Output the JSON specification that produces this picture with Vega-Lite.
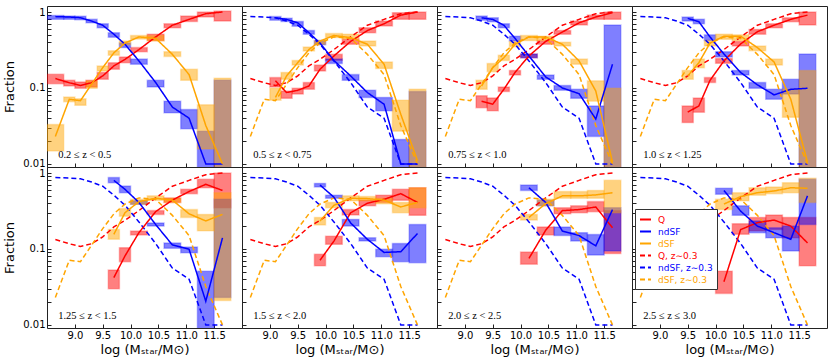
{
"$schema": "https://vega.github.io/schema/vega-lite/v6.json",
"padding": {"left": 3, "top": 5, "right": 5, "bottom": 2},
"background": "white",
"datasets": {
"bins": [
{"p":1,"k":"Q","lo":8.5,"hi":8.8,"x":8.65,"v":0.133,"l":0.114,"u":0.151},
{"p":1,"k":"Q","lo":8.8,"hi":9.0,"x":8.9,"v":0.117,"l":0.106,"u":0.126},
{"p":1,"k":"Q","lo":9.0,"hi":9.2,"x":9.1,"v":0.108,"l":0.099,"u":0.12},
{"p":1,"k":"Q","lo":9.2,"hi":9.4,"x":9.3,"v":0.117,"l":0.103,"u":0.126},
{"p":1,"k":"Q","lo":9.4,"hi":9.6,"x":9.5,"v":0.144,"l":0.13,"u":0.16},
{"p":1,"k":"Q","lo":9.6,"hi":9.8,"x":9.7,"v":0.195,"l":0.176,"u":0.215},
{"p":1,"k":"Q","lo":9.8,"hi":10.0,"x":9.9,"v":0.238,"l":0.215,"u":0.256},
{"p":1,"k":"Q","lo":10.0,"hi":10.3,"x":10.15,"v":0.32,"l":0.30,"u":0.34},
{"p":1,"k":"Q","lo":10.3,"hi":10.6,"x":10.45,"v":0.47,"l":0.42,"u":0.51},
{"p":1,"k":"Q","lo":10.6,"hi":10.9,"x":10.75,"v":0.67,"l":0.62,"u":0.70},
{"p":1,"k":"Q","lo":10.9,"hi":11.2,"x":11.05,"v":0.80,"l":0.75,"u":0.886},
{"p":1,"k":"Q","lo":11.2,"hi":11.5,"x":11.35,"v":0.95,"l":0.86,"u":1.0},
{"p":1,"k":"Q","lo":11.5,"hi":11.8,"x":11.65,"v":1.0,"l":0.76,"u":1.03},
{"p":1,"k":"ndSF","lo":8.5,"hi":8.8,"x":8.65,"v":0.87,"l":0.80,"u":0.90},
{"p":1,"k":"ndSF","lo":8.8,"hi":9.0,"x":8.9,"v":0.86,"l":0.80,"u":0.886},
{"p":1,"k":"ndSF","lo":9.0,"hi":9.2,"x":9.1,"v":0.84,"l":0.79,"u":0.88},
{"p":1,"k":"ndSF","lo":9.2,"hi":9.4,"x":9.3,"v":0.76,"l":0.72,"u":0.80},
{"p":1,"k":"ndSF","lo":9.4,"hi":9.6,"x":9.5,"v":0.67,"l":0.62,"u":0.70},
{"p":1,"k":"ndSF","lo":9.6,"hi":9.8,"x":9.7,"v":0.51,"l":0.465,"u":0.535},
{"p":1,"k":"ndSF","lo":9.8,"hi":10.0,"x":9.9,"v":0.376,"l":0.34,"u":0.39},
{"p":1,"k":"ndSF","lo":10.0,"hi":10.3,"x":10.15,"v":0.227,"l":0.205,"u":0.24},
{"p":1,"k":"ndSF","lo":10.3,"hi":10.6,"x":10.45,"v":0.118,"l":0.103,"u":0.126},
{"p":1,"k":"ndSF","lo":10.6,"hi":10.9,"x":10.75,"v":0.056,"l":0.047,"u":0.067},
{"p":1,"k":"ndSF","lo":10.9,"hi":11.2,"x":11.05,"v":0.040,"l":0.029,"u":0.052},
{"p":1,"k":"ndSF","lo":11.2,"hi":11.5,"x":11.35,"v":0.01,"l":0.005,"u":0.027},
{"p":1,"k":"ndSF","lo":11.5,"hi":11.8,"x":11.65,"v":0.01,"l":0.005,"u":0.126},
{"p":1,"k":"dSF","lo":8.5,"hi":8.8,"x":8.65,"v":0.023,"l":0.0148,"u":0.033},
{"p":1,"k":"dSF","lo":8.8,"hi":9.0,"x":8.9,"v":0.071,"l":0.066,"u":0.076},
{"p":1,"k":"dSF","lo":9.0,"hi":9.2,"x":9.1,"v":0.068,"l":0.059,"u":0.072},
{"p":1,"k":"dSF","lo":9.2,"hi":9.4,"x":9.3,"v":0.112,"l":0.099,"u":0.124},
{"p":1,"k":"dSF","lo":9.4,"hi":9.6,"x":9.5,"v":0.185,"l":0.167,"u":0.195},
{"p":1,"k":"dSF","lo":9.6,"hi":9.8,"x":9.7,"v":0.29,"l":0.27,"u":0.31},
{"p":1,"k":"dSF","lo":9.8,"hi":10.0,"x":9.9,"v":0.39,"l":0.37,"u":0.415},
{"p":1,"k":"dSF","lo":10.0,"hi":10.3,"x":10.15,"v":0.47,"l":0.44,"u":0.49},
{"p":1,"k":"dSF","lo":10.3,"hi":10.6,"x":10.45,"v":0.45,"l":0.415,"u":0.49},
{"p":1,"k":"dSF","lo":10.6,"hi":10.9,"x":10.75,"v":0.277,"l":0.26,"u":0.30},
{"p":1,"k":"dSF","lo":10.9,"hi":11.2,"x":11.05,"v":0.15,"l":0.126,"u":0.176},
{"p":1,"k":"dSF","lo":11.2,"hi":11.5,"x":11.35,"v":0.032,"l":0.0157,"u":0.06},
{"p":1,"k":"dSF","lo":11.5,"hi":11.8,"x":11.65,"v":0.01,"l":0.005,"u":0.134},

{"p":2,"k":"Q","lo":9.0,"hi":9.2,"x":9.1,"v":0.124,"l":0.103,"u":0.137},
{"p":2,"k":"Q","lo":9.2,"hi":9.4,"x":9.3,"v":0.087,"l":0.073,"u":0.091},
{"p":2,"k":"Q","lo":9.4,"hi":9.6,"x":9.5,"v":0.093,"l":0.083,"u":0.099},
{"p":2,"k":"Q","lo":9.6,"hi":9.8,"x":9.7,"v":0.106,"l":0.096,"u":0.118},
{"p":2,"k":"Q","lo":9.8,"hi":10.0,"x":9.9,"v":0.176,"l":0.167,"u":0.20},
{"p":2,"k":"Q","lo":10.0,"hi":10.3,"x":10.15,"v":0.264,"l":0.231,"u":0.277},
{"p":2,"k":"Q","lo":10.3,"hi":10.6,"x":10.45,"v":0.41,"l":0.376,"u":0.437},
{"p":2,"k":"Q","lo":10.6,"hi":10.9,"x":10.75,"v":0.57,"l":0.535,"u":0.62},
{"p":2,"k":"Q","lo":10.9,"hi":11.2,"x":11.05,"v":0.70,"l":0.655,"u":0.76},
{"p":2,"k":"Q","lo":11.2,"hi":11.5,"x":11.35,"v":0.91,"l":0.80,"u":0.98},
{"p":2,"k":"Q","lo":11.5,"hi":11.8,"x":11.65,"v":1.0,"l":0.80,"u":1.0},
{"p":2,"k":"ndSF","lo":9.0,"hi":9.2,"x":9.1,"v":0.84,"l":0.78,"u":0.87},
{"p":2,"k":"ndSF","lo":9.2,"hi":9.4,"x":9.3,"v":0.80,"l":0.75,"u":0.83},
{"p":2,"k":"ndSF","lo":9.4,"hi":9.6,"x":9.5,"v":0.72,"l":0.65,"u":0.75},
{"p":2,"k":"ndSF","lo":9.6,"hi":9.8,"x":9.7,"v":0.535,"l":0.51,"u":0.57},
{"p":2,"k":"ndSF","lo":9.8,"hi":10.0,"x":9.9,"v":0.39,"l":0.37,"u":0.42},
{"p":2,"k":"ndSF","lo":10.0,"hi":10.3,"x":10.15,"v":0.23,"l":0.21,"u":0.24},
{"p":2,"k":"ndSF","lo":10.3,"hi":10.6,"x":10.45,"v":0.144,"l":0.126,"u":0.15},
{"p":2,"k":"ndSF","lo":10.6,"hi":10.9,"x":10.75,"v":0.087,"l":0.075,"u":0.093},
{"p":2,"k":"ndSF","lo":10.9,"hi":11.2,"x":11.05,"v":0.061,"l":0.05,"u":0.075},
{"p":2,"k":"ndSF","lo":11.2,"hi":11.5,"x":11.35,"v":0.01,"l":0.005,"u":0.021},
{"p":2,"k":"ndSF","lo":11.5,"hi":11.8,"x":11.65,"v":0.01,"l":0.005,"u":0.09},
{"p":2,"k":"dSF","lo":9.0,"hi":9.2,"x":9.1,"v":0.075,"l":0.069,"u":0.099},
{"p":2,"k":"dSF","lo":9.2,"hi":9.4,"x":9.3,"v":0.144,"l":0.13,"u":0.16},
{"p":2,"k":"dSF","lo":9.4,"hi":9.6,"x":9.5,"v":0.215,"l":0.20,"u":0.23},
{"p":2,"k":"dSF","lo":9.6,"hi":9.8,"x":9.7,"v":0.32,"l":0.307,"u":0.345},
{"p":2,"k":"dSF","lo":9.8,"hi":10.0,"x":9.9,"v":0.415,"l":0.376,"u":0.42},
{"p":2,"k":"dSF","lo":10.0,"hi":10.3,"x":10.15,"v":0.49,"l":0.46,"u":0.52},
{"p":2,"k":"dSF","lo":10.3,"hi":10.6,"x":10.45,"v":0.46,"l":0.44,"u":0.51},
{"p":2,"k":"dSF","lo":10.6,"hi":10.9,"x":10.75,"v":0.376,"l":0.357,"u":0.415},
{"p":2,"k":"dSF","lo":10.9,"hi":11.2,"x":11.05,"v":0.205,"l":0.18,"u":0.22},
{"p":2,"k":"dSF","lo":11.2,"hi":11.5,"x":11.35,"v":0.045,"l":0.027,"u":0.069},
{"p":2,"k":"dSF","lo":11.5,"hi":11.8,"x":11.65,"v":0.011,"l":0.005,"u":0.096},

{"p":3,"k":"Q","lo":9.2,"hi":9.4,"x":9.3,"v":0.067,"l":0.055,"u":0.079},
{"p":3,"k":"Q","lo":9.4,"hi":9.6,"x":9.5,"v":0.061,"l":0.05,"u":0.074},
{"p":3,"k":"Q","lo":9.6,"hi":9.8,"x":9.7,"v":0.096,"l":0.09,"u":0.103},
{"p":3,"k":"Q","lo":9.8,"hi":10.0,"x":9.9,"v":0.16,"l":0.148,"u":0.17},
{"p":3,"k":"Q","lo":10.0,"hi":10.3,"x":10.15,"v":0.264,"l":0.25,"u":0.28},
{"p":3,"k":"Q","lo":10.3,"hi":10.6,"x":10.45,"v":0.41,"l":0.376,"u":0.42},
{"p":3,"k":"Q","lo":10.6,"hi":10.9,"x":10.75,"v":0.545,"l":0.51,"u":0.57},
{"p":3,"k":"Q","lo":10.9,"hi":11.2,"x":11.05,"v":0.72,"l":0.675,"u":0.76},
{"p":3,"k":"Q","lo":11.2,"hi":11.5,"x":11.35,"v":0.86,"l":0.80,"u":0.91},
{"p":3,"k":"Q","lo":11.5,"hi":11.8,"x":11.65,"v":0.98,"l":0.80,"u":1.0},
{"p":3,"k":"ndSF","lo":9.2,"hi":9.4,"x":9.3,"v":0.84,"l":0.78,"u":0.886},
{"p":3,"k":"ndSF","lo":9.4,"hi":9.6,"x":9.5,"v":0.80,"l":0.746,"u":0.84},
{"p":3,"k":"ndSF","lo":9.6,"hi":9.8,"x":9.7,"v":0.67,"l":0.62,"u":0.70},
{"p":3,"k":"ndSF","lo":9.8,"hi":10.0,"x":9.9,"v":0.45,"l":0.415,"u":0.48},
{"p":3,"k":"ndSF","lo":10.0,"hi":10.3,"x":10.15,"v":0.264,"l":0.25,"u":0.28},
{"p":3,"k":"ndSF","lo":10.3,"hi":10.6,"x":10.45,"v":0.14,"l":0.13,"u":0.148},
{"p":3,"k":"ndSF","lo":10.6,"hi":10.9,"x":10.75,"v":0.10,"l":0.093,"u":0.108},
{"p":3,"k":"ndSF","lo":10.9,"hi":11.2,"x":11.05,"v":0.084,"l":0.073,"u":0.096},
{"p":3,"k":"ndSF","lo":11.2,"hi":11.5,"x":11.35,"v":0.039,"l":0.023,"u":0.058},
{"p":3,"k":"ndSF","lo":11.5,"hi":11.8,"x":11.65,"v":0.205,"l":0.005,"u":0.675},
{"p":3,"k":"dSF","lo":9.2,"hi":9.4,"x":9.3,"v":0.106,"l":0.096,"u":0.126},
{"p":3,"k":"dSF","lo":9.4,"hi":9.6,"x":9.5,"v":0.185,"l":0.164,"u":0.21},
{"p":3,"k":"dSF","lo":9.6,"hi":9.8,"x":9.7,"v":0.25,"l":0.23,"u":0.27},
{"p":3,"k":"dSF","lo":9.8,"hi":10.0,"x":9.9,"v":0.376,"l":0.35,"u":0.41},
{"p":3,"k":"dSF","lo":10.0,"hi":10.3,"x":10.15,"v":0.47,"l":0.42,"u":0.49},
{"p":3,"k":"dSF","lo":10.3,"hi":10.6,"x":10.45,"v":0.47,"l":0.42,"u":0.48},
{"p":3,"k":"dSF","lo":10.6,"hi":10.9,"x":10.75,"v":0.376,"l":0.357,"u":0.40},
{"p":3,"k":"dSF","lo":10.9,"hi":11.2,"x":11.05,"v":0.227,"l":0.205,"u":0.24},
{"p":3,"k":"dSF","lo":11.2,"hi":11.5,"x":11.35,"v":0.091,"l":0.067,"u":0.124},
{"p":3,"k":"dSF","lo":11.5,"hi":11.8,"x":11.65,"v":0.0105,"l":0.005,"u":0.099},

{"p":4,"k":"Q","lo":9.4,"hi":9.6,"x":9.5,"v":0.048,"l":0.035,"u":0.058},
{"p":4,"k":"Q","lo":9.6,"hi":9.8,"x":9.7,"v":0.058,"l":0.048,"u":0.074},
{"p":4,"k":"Q","lo":9.8,"hi":10.0,"x":9.9,"v":0.126,"l":0.118,"u":0.137},
{"p":4,"k":"Q","lo":10.0,"hi":10.3,"x":10.15,"v":0.227,"l":0.211,"u":0.244},
{"p":4,"k":"Q","lo":10.3,"hi":10.6,"x":10.45,"v":0.38,"l":0.357,"u":0.41},
{"p":4,"k":"Q","lo":10.6,"hi":10.9,"x":10.75,"v":0.55,"l":0.51,"u":0.59},
{"p":4,"k":"Q","lo":10.9,"hi":11.2,"x":11.05,"v":0.67,"l":0.62,"u":0.70},
{"p":4,"k":"Q","lo":11.2,"hi":11.5,"x":11.35,"v":0.80,"l":0.746,"u":0.84},
{"p":4,"k":"Q","lo":11.5,"hi":11.8,"x":11.65,"v":0.91,"l":0.675,"u":1.0},
{"p":4,"k":"ndSF","lo":9.4,"hi":9.6,"x":9.5,"v":0.825,"l":0.76,"u":0.86},
{"p":4,"k":"ndSF","lo":9.6,"hi":9.8,"x":9.7,"v":0.746,"l":0.70,"u":0.80},
{"p":4,"k":"ndSF","lo":9.8,"hi":10.0,"x":9.9,"v":0.47,"l":0.42,"u":0.50},
{"p":4,"k":"ndSF","lo":10.0,"hi":10.3,"x":10.15,"v":0.28,"l":0.256,"u":0.30},
{"p":4,"k":"ndSF","lo":10.3,"hi":10.6,"x":10.45,"v":0.16,"l":0.148,"u":0.17},
{"p":4,"k":"ndSF","lo":10.6,"hi":10.9,"x":10.75,"v":0.11,"l":0.099,"u":0.118},
{"p":4,"k":"ndSF","lo":10.9,"hi":11.2,"x":11.05,"v":0.081,"l":0.071,"u":0.096},
{"p":4,"k":"ndSF","lo":11.2,"hi":11.5,"x":11.35,"v":0.096,"l":0.083,"u":0.13},
{"p":4,"k":"ndSF","lo":11.5,"hi":11.8,"x":11.65,"v":0.099,"l":0.005,"u":0.28},
{"p":4,"k":"dSF","lo":9.4,"hi":9.6,"x":9.5,"v":0.144,"l":0.13,"u":0.17},
{"p":4,"k":"dSF","lo":9.6,"hi":9.8,"x":9.7,"v":0.215,"l":0.185,"u":0.24},
{"p":4,"k":"dSF","lo":9.8,"hi":10.0,"x":9.9,"v":0.39,"l":0.357,"u":0.42},
{"p":4,"k":"dSF","lo":10.0,"hi":10.3,"x":10.15,"v":0.48,"l":0.437,"u":0.51},
{"p":4,"k":"dSF","lo":10.3,"hi":10.6,"x":10.45,"v":0.48,"l":0.42,"u":0.50},
{"p":4,"k":"dSF","lo":10.6,"hi":10.9,"x":10.75,"v":0.34,"l":0.31,"u":0.357},
{"p":4,"k":"dSF","lo":10.9,"hi":11.2,"x":11.05,"v":0.22,"l":0.20,"u":0.24},
{"p":4,"k":"dSF","lo":11.2,"hi":11.5,"x":11.35,"v":0.071,"l":0.041,"u":0.096},
{"p":4,"k":"dSF","lo":11.5,"hi":11.8,"x":11.65,"v":0.0105,"l":0.005,"u":0.17},

{"p":5,"k":"Q","lo":9.6,"hi":9.8,"x":9.7,"v":0.042,"l":0.03,"u":0.053},
{"p":5,"k":"Q","lo":9.8,"hi":10.0,"x":9.9,"v":0.081,"l":0.068,"u":0.104},
{"p":5,"k":"Q","lo":10.0,"hi":10.3,"x":10.15,"v":0.164,"l":0.153,"u":0.172},
{"p":5,"k":"Q","lo":10.3,"hi":10.6,"x":10.45,"v":0.31,"l":0.285,"u":0.32},
{"p":5,"k":"Q","lo":10.6,"hi":10.9,"x":10.75,"v":0.44,"l":0.41,"u":0.47},
{"p":5,"k":"Q","lo":10.9,"hi":11.2,"x":11.05,"v":0.57,"l":0.535,"u":0.61},
{"p":5,"k":"Q","lo":11.2,"hi":11.5,"x":11.35,"v":0.71,"l":0.64,"u":0.825},
{"p":5,"k":"Q","lo":11.5,"hi":11.8,"x":11.65,"v":0.59,"l":0.35,"u":1.0},
{"p":5,"k":"ndSF","lo":9.6,"hi":9.8,"x":9.7,"v":0.80,"l":0.746,"u":0.87},
{"p":5,"k":"ndSF","lo":9.8,"hi":10.0,"x":9.9,"v":0.61,"l":0.55,"u":0.675},
{"p":5,"k":"ndSF","lo":10.0,"hi":10.3,"x":10.15,"v":0.41,"l":0.387,"u":0.43},
{"p":5,"k":"ndSF","lo":10.3,"hi":10.6,"x":10.45,"v":0.21,"l":0.20,"u":0.22},
{"p":5,"k":"ndSF","lo":10.6,"hi":10.9,"x":10.75,"v":0.113,"l":0.102,"u":0.12},
{"p":5,"k":"ndSF","lo":10.9,"hi":11.2,"x":11.05,"v":0.099,"l":0.089,"u":0.106},
{"p":5,"k":"ndSF","lo":11.2,"hi":11.5,"x":11.35,"v":0.0205,"l":0.005,"u":0.051},
{"p":5,"k":"ndSF","lo":11.5,"hi":11.8,"x":11.65,"v":0.14,"l":0.023,"u":0.45},
{"p":5,"k":"dSF","lo":9.6,"hi":9.8,"x":9.7,"v":0.156,"l":0.134,"u":0.18},
{"p":5,"k":"dSF","lo":9.8,"hi":10.0,"x":9.9,"v":0.30,"l":0.27,"u":0.34},
{"p":5,"k":"dSF","lo":10.0,"hi":10.3,"x":10.15,"v":0.42,"l":0.387,"u":0.45},
{"p":5,"k":"dSF","lo":10.3,"hi":10.6,"x":10.45,"v":0.465,"l":0.437,"u":0.50},
{"p":5,"k":"dSF","lo":10.6,"hi":10.9,"x":10.75,"v":0.44,"l":0.41,"u":0.465},
{"p":5,"k":"dSF","lo":10.9,"hi":11.2,"x":11.05,"v":0.29,"l":0.26,"u":0.33},
{"p":5,"k":"dSF","lo":11.2,"hi":11.5,"x":11.35,"v":0.234,"l":0.173,"u":0.285},
{"p":5,"k":"dSF","lo":11.5,"hi":11.8,"x":11.65,"v":0.285,"l":0.021,"u":0.55},

{"p":6,"k":"Q","lo":9.8,"hi":10.0,"x":9.9,"v":0.071,"l":0.06,"u":0.085},
{"p":6,"k":"Q","lo":10.0,"hi":10.3,"x":10.15,"v":0.127,"l":0.115,"u":0.147},
{"p":6,"k":"Q","lo":10.3,"hi":10.6,"x":10.45,"v":0.30,"l":0.28,"u":0.33},
{"p":6,"k":"Q","lo":10.6,"hi":10.9,"x":10.75,"v":0.40,"l":0.37,"u":0.44},
{"p":6,"k":"Q","lo":10.9,"hi":11.2,"x":11.05,"v":0.45,"l":0.41,"u":0.51},
{"p":6,"k":"Q","lo":11.2,"hi":11.5,"x":11.35,"v":0.535,"l":0.437,"u":0.61},
{"p":6,"k":"Q","lo":11.5,"hi":11.8,"x":11.65,"v":0.41,"l":0.277,"u":0.64},
{"p":6,"k":"ndSF","lo":9.8,"hi":10.0,"x":9.9,"v":0.695,"l":0.655,"u":0.73},
{"p":6,"k":"ndSF","lo":10.0,"hi":10.3,"x":10.15,"v":0.48,"l":0.465,"u":0.51},
{"p":6,"k":"ndSF","lo":10.3,"hi":10.6,"x":10.45,"v":0.22,"l":0.20,"u":0.245},
{"p":6,"k":"ndSF","lo":10.6,"hi":10.9,"x":10.75,"v":0.134,"l":0.127,"u":0.14},
{"p":6,"k":"ndSF","lo":10.9,"hi":11.2,"x":11.05,"v":0.09,"l":0.079,"u":0.099},
{"p":6,"k":"ndSF","lo":11.2,"hi":11.5,"x":11.35,"v":0.092,"l":0.068,"u":0.118},
{"p":6,"k":"ndSF","lo":11.5,"hi":11.8,"x":11.65,"v":0.16,"l":0.066,"u":0.21},
{"p":6,"k":"dSF","lo":9.8,"hi":10.0,"x":9.9,"v":0.234,"l":0.207,"u":0.26},
{"p":6,"k":"dSF","lo":10.0,"hi":10.3,"x":10.15,"v":0.376,"l":0.35,"u":0.41},
{"p":6,"k":"dSF","lo":10.3,"hi":10.6,"x":10.45,"v":0.465,"l":0.43,"u":0.50},
{"p":6,"k":"dSF","lo":10.6,"hi":10.9,"x":10.75,"v":0.46,"l":0.43,"u":0.49},
{"p":6,"k":"dSF","lo":10.9,"hi":11.2,"x":11.05,"v":0.44,"l":0.395,"u":0.465},
{"p":6,"k":"dSF","lo":11.2,"hi":11.5,"x":11.35,"v":0.357,"l":0.30,"u":0.41},
{"p":6,"k":"dSF","lo":11.5,"hi":11.8,"x":11.65,"v":0.41,"l":0.35,"u":0.64},

{"p":7,"k":"Q","lo":10.0,"hi":10.3,"x":10.15,"v":0.075,"l":0.063,"u":0.091},
{"p":7,"k":"Q","lo":10.3,"hi":10.6,"x":10.45,"v":0.176,"l":0.153,"u":0.195},
{"p":7,"k":"Q","lo":10.6,"hi":10.9,"x":10.75,"v":0.32,"l":0.29,"u":0.35},
{"p":7,"k":"Q","lo":10.9,"hi":11.2,"x":11.05,"v":0.33,"l":0.30,"u":0.37},
{"p":7,"k":"Q","lo":11.2,"hi":11.5,"x":11.35,"v":0.357,"l":0.31,"u":0.42},
{"p":7,"k":"Q","lo":11.5,"hi":11.8,"x":11.65,"v":0.19,"l":0.087,"u":0.32},
{"p":7,"k":"ndSF","lo":10.0,"hi":10.3,"x":10.15,"v":0.64,"l":0.59,"u":0.695},
{"p":7,"k":"ndSF","lo":10.3,"hi":10.6,"x":10.45,"v":0.41,"l":0.37,"u":0.437},
{"p":7,"k":"ndSF","lo":10.6,"hi":10.9,"x":10.75,"v":0.172,"l":0.15,"u":0.195},
{"p":7,"k":"ndSF","lo":10.9,"hi":11.2,"x":11.05,"v":0.15,"l":0.127,"u":0.164},
{"p":7,"k":"ndSF","lo":11.2,"hi":11.5,"x":11.35,"v":0.11,"l":0.083,"u":0.155},
{"p":7,"k":"ndSF","lo":11.5,"hi":11.8,"x":11.65,"v":0.33,"l":0.094,"u":0.35},
{"p":7,"k":"dSF","lo":10.0,"hi":10.3,"x":10.15,"v":0.26,"l":0.24,"u":0.285},
{"p":7,"k":"dSF","lo":10.3,"hi":10.6,"x":10.45,"v":0.395,"l":0.37,"u":0.45},
{"p":7,"k":"dSF","lo":10.6,"hi":10.9,"x":10.75,"v":0.50,"l":0.465,"u":0.57},
{"p":7,"k":"dSF","lo":10.9,"hi":11.2,"x":11.05,"v":0.50,"l":0.465,"u":0.57},
{"p":7,"k":"dSF","lo":11.2,"hi":11.5,"x":11.35,"v":0.515,"l":0.465,"u":0.59},
{"p":7,"k":"dSF","lo":11.5,"hi":11.8,"x":11.65,"v":0.55,"l":0.30,"u":0.80},

{"p":8,"k":"Q","lo":10.0,"hi":10.3,"x":10.15,"v":0.037,"l":0.026,"u":0.051},
{"p":8,"k":"Q","lo":10.3,"hi":10.6,"x":10.45,"v":0.18,"l":0.156,"u":0.215},
{"p":8,"k":"Q","lo":10.6,"hi":10.9,"x":10.75,"v":0.222,"l":0.173,"u":0.26},
{"p":8,"k":"Q","lo":10.9,"hi":11.2,"x":11.05,"v":0.24,"l":0.18,"u":0.28},
{"p":8,"k":"Q","lo":11.2,"hi":11.5,"x":11.35,"v":0.20,"l":0.14,"u":0.26},
{"p":8,"k":"Q","lo":11.5,"hi":11.8,"x":11.65,"v":0.12,"l":0.06,"u":0.26},
{"p":8,"k":"ndSF","lo":10.0,"hi":10.3,"x":10.15,"v":0.59,"l":0.525,"u":0.63},
{"p":8,"k":"ndSF","lo":10.3,"hi":10.6,"x":10.45,"v":0.315,"l":0.277,"u":0.37},
{"p":8,"k":"ndSF","lo":10.6,"hi":10.9,"x":10.75,"v":0.20,"l":0.164,"u":0.234},
{"p":8,"k":"ndSF","lo":10.9,"hi":11.2,"x":11.05,"v":0.164,"l":0.14,"u":0.19},
{"p":8,"k":"ndSF","lo":11.2,"hi":11.5,"x":11.35,"v":0.134,"l":0.094,"u":0.20},
{"p":8,"k":"ndSF","lo":11.5,"hi":11.8,"x":11.65,"v":0.50,"l":0.21,"u":0.825},
{"p":8,"k":"dSF","lo":10.0,"hi":10.3,"x":10.15,"v":0.39,"l":0.33,"u":0.45},
{"p":8,"k":"dSF","lo":10.3,"hi":10.6,"x":10.45,"v":0.49,"l":0.43,"u":0.55},
{"p":8,"k":"dSF","lo":10.6,"hi":10.9,"x":10.75,"v":0.55,"l":0.51,"u":0.64},
{"p":8,"k":"dSF","lo":10.9,"hi":11.2,"x":11.05,"v":0.58,"l":0.535,"u":0.655},
{"p":8,"k":"dSF","lo":11.2,"hi":11.5,"x":11.35,"v":0.64,"l":0.55,"u":0.746},
{"p":8,"k":"dSF","lo":11.5,"hi":11.8,"x":11.65,"v":0.63,"l":0.41,"u":0.85}
],
"ref": [
{"k":"Q, z∼0.3","x":8.65,"v":0.133},{"k":"Q, z∼0.3","x":8.9,"v":0.117},{"k":"Q, z∼0.3","x":9.1,"v":0.108},{"k":"Q, z∼0.3","x":9.3,"v":0.117},{"k":"Q, z∼0.3","x":9.5,"v":0.144},{"k":"Q, z∼0.3","x":9.7,"v":0.195},{"k":"Q, z∼0.3","x":9.9,"v":0.238},{"k":"Q, z∼0.3","x":10.15,"v":0.32},{"k":"Q, z∼0.3","x":10.45,"v":0.47},{"k":"Q, z∼0.3","x":10.75,"v":0.67},{"k":"Q, z∼0.3","x":11.05,"v":0.80},{"k":"Q, z∼0.3","x":11.35,"v":0.95},{"k":"Q, z∼0.3","x":11.65,"v":1.0},
{"k":"ndSF, z∼0.3","x":8.65,"v":0.87},{"k":"ndSF, z∼0.3","x":8.9,"v":0.86},{"k":"ndSF, z∼0.3","x":9.1,"v":0.84},{"k":"ndSF, z∼0.3","x":9.3,"v":0.76},{"k":"ndSF, z∼0.3","x":9.5,"v":0.67},{"k":"ndSF, z∼0.3","x":9.7,"v":0.51},{"k":"ndSF, z∼0.3","x":9.9,"v":0.376},{"k":"ndSF, z∼0.3","x":10.15,"v":0.227},{"k":"ndSF, z∼0.3","x":10.45,"v":0.118},{"k":"ndSF, z∼0.3","x":10.75,"v":0.056},{"k":"ndSF, z∼0.3","x":11.05,"v":0.040},{"k":"ndSF, z∼0.3","x":11.35,"v":0.01},{"k":"ndSF, z∼0.3","x":11.65,"v":0.01},
{"k":"dSF, z∼0.3","x":8.65,"v":0.023},{"k":"dSF, z∼0.3","x":8.9,"v":0.071},{"k":"dSF, z∼0.3","x":9.1,"v":0.068},{"k":"dSF, z∼0.3","x":9.3,"v":0.112},{"k":"dSF, z∼0.3","x":9.5,"v":0.185},{"k":"dSF, z∼0.3","x":9.7,"v":0.29},{"k":"dSF, z∼0.3","x":9.9,"v":0.39},{"k":"dSF, z∼0.3","x":10.15,"v":0.47},{"k":"dSF, z∼0.3","x":10.45,"v":0.45},{"k":"dSF, z∼0.3","x":10.75,"v":0.277},{"k":"dSF, z∼0.3","x":11.05,"v":0.15},{"k":"dSF, z∼0.3","x":11.35,"v":0.032},{"k":"dSF, z∼0.3","x":11.65,"v":0.01}
],
"labels": [
{"p":1,"t":"0.2 ≤ z < 0.5"},{"p":2,"t":"0.5 ≤ z < 0.75"},{"p":3,"t":"0.75 ≤ z < 1.0"},{"p":4,"t":"1.0 ≤ z < 1.25"},
{"p":5,"t":"1.25 ≤ z < 1.5"},{"p":6,"t":"1.5 ≤ z < 2.0"},{"p":7,"t":"2.0 ≤ z < 2.5"},{"p":8,"t":"2.5 ≤ z ≤ 3.0"}
]
},
"columns": 4,
"spacing": 0,
"bounds": "flush",
"concat": [
{"width":195,"height":161,"layer":[
{"data":{"name":"bins"},"transform":[{"filter":"datum.p==1"}],"mark":{"type":"rect","clip":true,"fillOpacity":0.5,"strokeOpacity":0.25,"strokeWidth":1.5},"encoding":{"x":{"field":"lo","type":"quantitative","scale":{"domain":[8.5,12],"nice":false,"zero":false},"axis":{"values":[9,9.5,10,10.5,11,11.5],"labels":false,"title":null}},"x2":{"field":"hi"},"y":{"field":"l","type":"quantitative","scale":{"type":"log","domain":[0.0091,1.2],"nice":false},"axis":{"values":[0.01,0.02,0.03,0.04,0.05,0.06,0.07,0.08,0.09,0.1,0.2,0.3,0.4,0.5,0.6,0.7,0.8,0.9,1],"labelExpr":"datum.value == 1 ? '1' : datum.value == 0.1 ? '0.1' : datum.value == 0.01 ? '0.01' : ''","labelOverlap":false,"title":"Fraction"}},"y2":{"field":"u"},"fill":{"field":"k","type":"nominal","scale":{"domain":["Q","ndSF","dSF"],"range":["#ff0000","#0000ff","#ffa500"]},"legend":null},"stroke":{"field":"k","type":"nominal","scale":{"domain":["Q","ndSF","dSF"],"range":["#ff0000","#0000ff","#ffa500"]},"legend":null}}},
{"data":{"name":"bins"},"transform":[{"filter":"datum.p==1"}],"mark":{"type":"line","clip":true,"strokeWidth":1.5},"encoding":{"x":{"field":"x","type":"quantitative","scale":{"domain":[8.5,12],"nice":false,"zero":false},"axis":{"values":[9,9.5,10,10.5,11,11.5],"labels":false,"title":null}},"y":{"field":"v","type":"quantitative","scale":{"type":"log","domain":[0.0091,1.2],"nice":false},"axis":{"values":[0.01,0.02,0.03,0.04,0.05,0.06,0.07,0.08,0.09,0.1,0.2,0.3,0.4,0.5,0.6,0.7,0.8,0.9,1],"labelExpr":"datum.value == 1 ? '1' : datum.value == 0.1 ? '0.1' : datum.value == 0.01 ? '0.01' : ''","labelOverlap":false,"title":"Fraction"}},"color":{"field":"k","type":"nominal","scale":{"domain":["Q","ndSF","dSF","Q, z∼0.3","ndSF, z∼0.3","dSF, z∼0.3"],"range":["#ff0000","#0000ff","#ffa500","#ff0000","#0000ff","#ffa500"]},"legend":{"orient":"none","legendX":588,"legendY":203,"title":null,"symbolType":"stroke","symbolSize":121,"symbolStrokeWidth":2,"labelFontSize":9,"labelFont":"DejaVu Sans","rowPadding":0,"padding":4,"strokeColor":"#333","fillColor":"white","labelOffset":6,"encode":{"labels":{"update":{"fill":{"scale":"color","field":"value"}}}}}},"strokeDash":{"field":"k","type":"nominal","scale":{"domain":["Q","ndSF","dSF","Q, z∼0.3","ndSF, z∼0.3","dSF, z∼0.3"],"range":[[1,0],[1,0],[1,0],[5,3],[5,3],[5,3]]},"legend":{"orient":"none","legendX":588,"legendY":203,"title":null,"symbolType":"stroke","symbolSize":121,"symbolStrokeWidth":2,"labelFontSize":9,"labelFont":"DejaVu Sans","rowPadding":0,"padding":4,"strokeColor":"#333","fillColor":"white","labelOffset":6,"encode":{"labels":{"update":{"fill":{"scale":"color","field":"value"}}}}}}}},
{"data":{"name":"labels"},"transform":[{"filter":"datum.p==1"}],"mark":{"type":"text","align":"left","baseline":"middle","font":"Liberation Serif","fontSize":10.5},"encoding":{"x":{"datum":8.7,"type":"quantitative","scale":{"domain":[8.5,12],"nice":false,"zero":false},"axis":{"values":[9,9.5,10,10.5,11,11.5],"labels":false,"title":null}},"y":{"datum":0.0132,"type":"quantitative","scale":{"type":"log","domain":[0.0091,1.2],"nice":false},"axis":{"values":[0.01,0.02,0.03,0.04,0.05,0.06,0.07,0.08,0.09,0.1,0.2,0.3,0.4,0.5,0.6,0.7,0.8,0.9,1],"labelExpr":"datum.value == 1 ? '1' : datum.value == 0.1 ? '0.1' : datum.value == 0.01 ? '0.01' : ''","labelOverlap":false,"title":"Fraction"}},"text":{"field":"t"}}}
]},
{"width":195,"height":161,"layer":[
{"data":{"name":"bins"},"transform":[{"filter":"datum.p==2"}],"mark":{"type":"rect","clip":true,"fillOpacity":0.5,"strokeOpacity":0.25,"strokeWidth":1.5},"encoding":{"x":{"field":"lo","type":"quantitative","scale":{"domain":[8.5,12],"nice":false,"zero":false},"axis":{"values":[9,9.5,10,10.5,11,11.5],"labels":false,"title":null}},"x2":{"field":"hi"},"y":{"field":"l","type":"quantitative","scale":{"type":"log","domain":[0.0091,1.2],"nice":false},"axis":{"values":[0.01,0.02,0.03,0.04,0.05,0.06,0.07,0.08,0.09,0.1,0.2,0.3,0.4,0.5,0.6,0.7,0.8,0.9,1],"labels":false,"title":null}},"y2":{"field":"u"},"fill":{"field":"k","type":"nominal","scale":{"domain":["Q","ndSF","dSF"],"range":["#ff0000","#0000ff","#ffa500"]},"legend":null},"stroke":{"field":"k","type":"nominal","scale":{"domain":["Q","ndSF","dSF"],"range":["#ff0000","#0000ff","#ffa500"]},"legend":null}}},
{"data":{"name":"ref"},"mark":{"type":"line","clip":true,"strokeWidth":1.5},"encoding":{"x":{"field":"x","type":"quantitative","scale":{"domain":[8.5,12],"nice":false,"zero":false},"axis":{"values":[9,9.5,10,10.5,11,11.5],"labels":false,"title":null}},"y":{"field":"v","type":"quantitative","scale":{"type":"log","domain":[0.0091,1.2],"nice":false},"axis":{"values":[0.01,0.02,0.03,0.04,0.05,0.06,0.07,0.08,0.09,0.1,0.2,0.3,0.4,0.5,0.6,0.7,0.8,0.9,1],"labels":false,"title":null}},"color":{"field":"k","type":"nominal","scale":{"domain":["Q","ndSF","dSF","Q, z∼0.3","ndSF, z∼0.3","dSF, z∼0.3"],"range":["#ff0000","#0000ff","#ffa500","#ff0000","#0000ff","#ffa500"]},"legend":{"orient":"none","legendX":588,"legendY":203,"title":null,"symbolType":"stroke","symbolSize":121,"symbolStrokeWidth":2,"labelFontSize":9,"labelFont":"DejaVu Sans","rowPadding":0,"padding":4,"strokeColor":"#333","fillColor":"white","labelOffset":6,"encode":{"labels":{"update":{"fill":{"scale":"color","field":"value"}}}}}},"strokeDash":{"field":"k","type":"nominal","scale":{"domain":["Q","ndSF","dSF","Q, z∼0.3","ndSF, z∼0.3","dSF, z∼0.3"],"range":[[1,0],[1,0],[1,0],[5,3],[5,3],[5,3]]},"legend":{"orient":"none","legendX":588,"legendY":203,"title":null,"symbolType":"stroke","symbolSize":121,"symbolStrokeWidth":2,"labelFontSize":9,"labelFont":"DejaVu Sans","rowPadding":0,"padding":4,"strokeColor":"#333","fillColor":"white","labelOffset":6,"encode":{"labels":{"update":{"fill":{"scale":"color","field":"value"}}}}}}}},
{"data":{"name":"bins"},"transform":[{"filter":"datum.p==2"}],"mark":{"type":"line","clip":true,"strokeWidth":1.5},"encoding":{"x":{"field":"x","type":"quantitative","scale":{"domain":[8.5,12],"nice":false,"zero":false},"axis":{"values":[9,9.5,10,10.5,11,11.5],"labels":false,"title":null}},"y":{"field":"v","type":"quantitative","scale":{"type":"log","domain":[0.0091,1.2],"nice":false},"axis":{"values":[0.01,0.02,0.03,0.04,0.05,0.06,0.07,0.08,0.09,0.1,0.2,0.3,0.4,0.5,0.6,0.7,0.8,0.9,1],"labels":false,"title":null}},"color":{"field":"k","type":"nominal","scale":{"domain":["Q","ndSF","dSF","Q, z∼0.3","ndSF, z∼0.3","dSF, z∼0.3"],"range":["#ff0000","#0000ff","#ffa500","#ff0000","#0000ff","#ffa500"]},"legend":{"orient":"none","legendX":588,"legendY":203,"title":null,"symbolType":"stroke","symbolSize":121,"symbolStrokeWidth":2,"labelFontSize":9,"labelFont":"DejaVu Sans","rowPadding":0,"padding":4,"strokeColor":"#333","fillColor":"white","labelOffset":6,"encode":{"labels":{"update":{"fill":{"scale":"color","field":"value"}}}}}},"strokeDash":{"field":"k","type":"nominal","scale":{"domain":["Q","ndSF","dSF","Q, z∼0.3","ndSF, z∼0.3","dSF, z∼0.3"],"range":[[1,0],[1,0],[1,0],[5,3],[5,3],[5,3]]},"legend":{"orient":"none","legendX":588,"legendY":203,"title":null,"symbolType":"stroke","symbolSize":121,"symbolStrokeWidth":2,"labelFontSize":9,"labelFont":"DejaVu Sans","rowPadding":0,"padding":4,"strokeColor":"#333","fillColor":"white","labelOffset":6,"encode":{"labels":{"update":{"fill":{"scale":"color","field":"value"}}}}}}}},
{"data":{"name":"labels"},"transform":[{"filter":"datum.p==2"}],"mark":{"type":"text","align":"left","baseline":"middle","font":"Liberation Serif","fontSize":10.5},"encoding":{"x":{"datum":8.7,"type":"quantitative","scale":{"domain":[8.5,12],"nice":false,"zero":false},"axis":{"values":[9,9.5,10,10.5,11,11.5],"labels":false,"title":null}},"y":{"datum":0.0132,"type":"quantitative","scale":{"type":"log","domain":[0.0091,1.2],"nice":false},"axis":{"values":[0.01,0.02,0.03,0.04,0.05,0.06,0.07,0.08,0.09,0.1,0.2,0.3,0.4,0.5,0.6,0.7,0.8,0.9,1],"labels":false,"title":null}},"text":{"field":"t"}}}
]},
{"width":195,"height":161,"layer":[
{"data":{"name":"bins"},"transform":[{"filter":"datum.p==3"}],"mark":{"type":"rect","clip":true,"fillOpacity":0.5,"strokeOpacity":0.25,"strokeWidth":1.5},"encoding":{"x":{"field":"lo","type":"quantitative","scale":{"domain":[8.5,12],"nice":false,"zero":false},"axis":{"values":[9,9.5,10,10.5,11,11.5],"labels":false,"title":null}},"x2":{"field":"hi"},"y":{"field":"l","type":"quantitative","scale":{"type":"log","domain":[0.0091,1.2],"nice":false},"axis":{"values":[0.01,0.02,0.03,0.04,0.05,0.06,0.07,0.08,0.09,0.1,0.2,0.3,0.4,0.5,0.6,0.7,0.8,0.9,1],"labels":false,"title":null}},"y2":{"field":"u"},"fill":{"field":"k","type":"nominal","scale":{"domain":["Q","ndSF","dSF"],"range":["#ff0000","#0000ff","#ffa500"]},"legend":null},"stroke":{"field":"k","type":"nominal","scale":{"domain":["Q","ndSF","dSF"],"range":["#ff0000","#0000ff","#ffa500"]},"legend":null}}},
{"data":{"name":"ref"},"mark":{"type":"line","clip":true,"strokeWidth":1.5},"encoding":{"x":{"field":"x","type":"quantitative","scale":{"domain":[8.5,12],"nice":false,"zero":false},"axis":{"values":[9,9.5,10,10.5,11,11.5],"labels":false,"title":null}},"y":{"field":"v","type":"quantitative","scale":{"type":"log","domain":[0.0091,1.2],"nice":false},"axis":{"values":[0.01,0.02,0.03,0.04,0.05,0.06,0.07,0.08,0.09,0.1,0.2,0.3,0.4,0.5,0.6,0.7,0.8,0.9,1],"labels":false,"title":null}},"color":{"field":"k","type":"nominal","scale":{"domain":["Q","ndSF","dSF","Q, z∼0.3","ndSF, z∼0.3","dSF, z∼0.3"],"range":["#ff0000","#0000ff","#ffa500","#ff0000","#0000ff","#ffa500"]},"legend":{"orient":"none","legendX":588,"legendY":203,"title":null,"symbolType":"stroke","symbolSize":121,"symbolStrokeWidth":2,"labelFontSize":9,"labelFont":"DejaVu Sans","rowPadding":0,"padding":4,"strokeColor":"#333","fillColor":"white","labelOffset":6,"encode":{"labels":{"update":{"fill":{"scale":"color","field":"value"}}}}}},"strokeDash":{"field":"k","type":"nominal","scale":{"domain":["Q","ndSF","dSF","Q, z∼0.3","ndSF, z∼0.3","dSF, z∼0.3"],"range":[[1,0],[1,0],[1,0],[5,3],[5,3],[5,3]]},"legend":{"orient":"none","legendX":588,"legendY":203,"title":null,"symbolType":"stroke","symbolSize":121,"symbolStrokeWidth":2,"labelFontSize":9,"labelFont":"DejaVu Sans","rowPadding":0,"padding":4,"strokeColor":"#333","fillColor":"white","labelOffset":6,"encode":{"labels":{"update":{"fill":{"scale":"color","field":"value"}}}}}}}},
{"data":{"name":"bins"},"transform":[{"filter":"datum.p==3"}],"mark":{"type":"line","clip":true,"strokeWidth":1.5},"encoding":{"x":{"field":"x","type":"quantitative","scale":{"domain":[8.5,12],"nice":false,"zero":false},"axis":{"values":[9,9.5,10,10.5,11,11.5],"labels":false,"title":null}},"y":{"field":"v","type":"quantitative","scale":{"type":"log","domain":[0.0091,1.2],"nice":false},"axis":{"values":[0.01,0.02,0.03,0.04,0.05,0.06,0.07,0.08,0.09,0.1,0.2,0.3,0.4,0.5,0.6,0.7,0.8,0.9,1],"labels":false,"title":null}},"color":{"field":"k","type":"nominal","scale":{"domain":["Q","ndSF","dSF","Q, z∼0.3","ndSF, z∼0.3","dSF, z∼0.3"],"range":["#ff0000","#0000ff","#ffa500","#ff0000","#0000ff","#ffa500"]},"legend":{"orient":"none","legendX":588,"legendY":203,"title":null,"symbolType":"stroke","symbolSize":121,"symbolStrokeWidth":2,"labelFontSize":9,"labelFont":"DejaVu Sans","rowPadding":0,"padding":4,"strokeColor":"#333","fillColor":"white","labelOffset":6,"encode":{"labels":{"update":{"fill":{"scale":"color","field":"value"}}}}}},"strokeDash":{"field":"k","type":"nominal","scale":{"domain":["Q","ndSF","dSF","Q, z∼0.3","ndSF, z∼0.3","dSF, z∼0.3"],"range":[[1,0],[1,0],[1,0],[5,3],[5,3],[5,3]]},"legend":{"orient":"none","legendX":588,"legendY":203,"title":null,"symbolType":"stroke","symbolSize":121,"symbolStrokeWidth":2,"labelFontSize":9,"labelFont":"DejaVu Sans","rowPadding":0,"padding":4,"strokeColor":"#333","fillColor":"white","labelOffset":6,"encode":{"labels":{"update":{"fill":{"scale":"color","field":"value"}}}}}}}},
{"data":{"name":"labels"},"transform":[{"filter":"datum.p==3"}],"mark":{"type":"text","align":"left","baseline":"middle","font":"Liberation Serif","fontSize":10.5},"encoding":{"x":{"datum":8.7,"type":"quantitative","scale":{"domain":[8.5,12],"nice":false,"zero":false},"axis":{"values":[9,9.5,10,10.5,11,11.5],"labels":false,"title":null}},"y":{"datum":0.0132,"type":"quantitative","scale":{"type":"log","domain":[0.0091,1.2],"nice":false},"axis":{"values":[0.01,0.02,0.03,0.04,0.05,0.06,0.07,0.08,0.09,0.1,0.2,0.3,0.4,0.5,0.6,0.7,0.8,0.9,1],"labels":false,"title":null}},"text":{"field":"t"}}}
]},
{"width":195,"height":161,"layer":[
{"data":{"name":"bins"},"transform":[{"filter":"datum.p==4"}],"mark":{"type":"rect","clip":true,"fillOpacity":0.5,"strokeOpacity":0.25,"strokeWidth":1.5},"encoding":{"x":{"field":"lo","type":"quantitative","scale":{"domain":[8.5,12],"nice":false,"zero":false},"axis":{"values":[9,9.5,10,10.5,11,11.5],"labels":false,"title":null}},"x2":{"field":"hi"},"y":{"field":"l","type":"quantitative","scale":{"type":"log","domain":[0.0091,1.2],"nice":false},"axis":{"values":[0.01,0.02,0.03,0.04,0.05,0.06,0.07,0.08,0.09,0.1,0.2,0.3,0.4,0.5,0.6,0.7,0.8,0.9,1],"labels":false,"title":null}},"y2":{"field":"u"},"fill":{"field":"k","type":"nominal","scale":{"domain":["Q","ndSF","dSF"],"range":["#ff0000","#0000ff","#ffa500"]},"legend":null},"stroke":{"field":"k","type":"nominal","scale":{"domain":["Q","ndSF","dSF"],"range":["#ff0000","#0000ff","#ffa500"]},"legend":null}}},
{"data":{"name":"ref"},"mark":{"type":"line","clip":true,"strokeWidth":1.5},"encoding":{"x":{"field":"x","type":"quantitative","scale":{"domain":[8.5,12],"nice":false,"zero":false},"axis":{"values":[9,9.5,10,10.5,11,11.5],"labels":false,"title":null}},"y":{"field":"v","type":"quantitative","scale":{"type":"log","domain":[0.0091,1.2],"nice":false},"axis":{"values":[0.01,0.02,0.03,0.04,0.05,0.06,0.07,0.08,0.09,0.1,0.2,0.3,0.4,0.5,0.6,0.7,0.8,0.9,1],"labels":false,"title":null}},"color":{"field":"k","type":"nominal","scale":{"domain":["Q","ndSF","dSF","Q, z∼0.3","ndSF, z∼0.3","dSF, z∼0.3"],"range":["#ff0000","#0000ff","#ffa500","#ff0000","#0000ff","#ffa500"]},"legend":{"orient":"none","legendX":588,"legendY":203,"title":null,"symbolType":"stroke","symbolSize":121,"symbolStrokeWidth":2,"labelFontSize":9,"labelFont":"DejaVu Sans","rowPadding":0,"padding":4,"strokeColor":"#333","fillColor":"white","labelOffset":6,"encode":{"labels":{"update":{"fill":{"scale":"color","field":"value"}}}}}},"strokeDash":{"field":"k","type":"nominal","scale":{"domain":["Q","ndSF","dSF","Q, z∼0.3","ndSF, z∼0.3","dSF, z∼0.3"],"range":[[1,0],[1,0],[1,0],[5,3],[5,3],[5,3]]},"legend":{"orient":"none","legendX":588,"legendY":203,"title":null,"symbolType":"stroke","symbolSize":121,"symbolStrokeWidth":2,"labelFontSize":9,"labelFont":"DejaVu Sans","rowPadding":0,"padding":4,"strokeColor":"#333","fillColor":"white","labelOffset":6,"encode":{"labels":{"update":{"fill":{"scale":"color","field":"value"}}}}}}}},
{"data":{"name":"bins"},"transform":[{"filter":"datum.p==4"}],"mark":{"type":"line","clip":true,"strokeWidth":1.5},"encoding":{"x":{"field":"x","type":"quantitative","scale":{"domain":[8.5,12],"nice":false,"zero":false},"axis":{"values":[9,9.5,10,10.5,11,11.5],"labels":false,"title":null}},"y":{"field":"v","type":"quantitative","scale":{"type":"log","domain":[0.0091,1.2],"nice":false},"axis":{"values":[0.01,0.02,0.03,0.04,0.05,0.06,0.07,0.08,0.09,0.1,0.2,0.3,0.4,0.5,0.6,0.7,0.8,0.9,1],"labels":false,"title":null}},"color":{"field":"k","type":"nominal","scale":{"domain":["Q","ndSF","dSF","Q, z∼0.3","ndSF, z∼0.3","dSF, z∼0.3"],"range":["#ff0000","#0000ff","#ffa500","#ff0000","#0000ff","#ffa500"]},"legend":{"orient":"none","legendX":588,"legendY":203,"title":null,"symbolType":"stroke","symbolSize":121,"symbolStrokeWidth":2,"labelFontSize":9,"labelFont":"DejaVu Sans","rowPadding":0,"padding":4,"strokeColor":"#333","fillColor":"white","labelOffset":6,"encode":{"labels":{"update":{"fill":{"scale":"color","field":"value"}}}}}},"strokeDash":{"field":"k","type":"nominal","scale":{"domain":["Q","ndSF","dSF","Q, z∼0.3","ndSF, z∼0.3","dSF, z∼0.3"],"range":[[1,0],[1,0],[1,0],[5,3],[5,3],[5,3]]},"legend":{"orient":"none","legendX":588,"legendY":203,"title":null,"symbolType":"stroke","symbolSize":121,"symbolStrokeWidth":2,"labelFontSize":9,"labelFont":"DejaVu Sans","rowPadding":0,"padding":4,"strokeColor":"#333","fillColor":"white","labelOffset":6,"encode":{"labels":{"update":{"fill":{"scale":"color","field":"value"}}}}}}}},
{"data":{"name":"labels"},"transform":[{"filter":"datum.p==4"}],"mark":{"type":"text","align":"left","baseline":"middle","font":"Liberation Serif","fontSize":10.5},"encoding":{"x":{"datum":8.7,"type":"quantitative","scale":{"domain":[8.5,12],"nice":false,"zero":false},"axis":{"values":[9,9.5,10,10.5,11,11.5],"labels":false,"title":null}},"y":{"datum":0.0132,"type":"quantitative","scale":{"type":"log","domain":[0.0091,1.2],"nice":false},"axis":{"values":[0.01,0.02,0.03,0.04,0.05,0.06,0.07,0.08,0.09,0.1,0.2,0.3,0.4,0.5,0.6,0.7,0.8,0.9,1],"labels":false,"title":null}},"text":{"field":"t"}}}
]},
{"width":195,"height":161,"layer":[
{"data":{"name":"bins"},"transform":[{"filter":"datum.p==5"}],"mark":{"type":"rect","clip":true,"fillOpacity":0.5,"strokeOpacity":0.25,"strokeWidth":1.5},"encoding":{"x":{"field":"lo","type":"quantitative","scale":{"domain":[8.5,12],"nice":false,"zero":false},"axis":{"values":[9,9.5,10,10.5,11,11.5],"format":".1f","title":"log (Mₛₜₐᵣ/M⊙)"}},"x2":{"field":"hi"},"y":{"field":"l","type":"quantitative","scale":{"type":"log","domain":[0.0091,1.2],"nice":false},"axis":{"values":[0.01,0.02,0.03,0.04,0.05,0.06,0.07,0.08,0.09,0.1,0.2,0.3,0.4,0.5,0.6,0.7,0.8,0.9,1],"labelExpr":"datum.value == 1 ? '1' : datum.value == 0.1 ? '0.1' : datum.value == 0.01 ? '0.01' : ''","labelOverlap":false,"title":"Fraction"}},"y2":{"field":"u"},"fill":{"field":"k","type":"nominal","scale":{"domain":["Q","ndSF","dSF"],"range":["#ff0000","#0000ff","#ffa500"]},"legend":null},"stroke":{"field":"k","type":"nominal","scale":{"domain":["Q","ndSF","dSF"],"range":["#ff0000","#0000ff","#ffa500"]},"legend":null}}},
{"data":{"name":"ref"},"mark":{"type":"line","clip":true,"strokeWidth":1.5},"encoding":{"x":{"field":"x","type":"quantitative","scale":{"domain":[8.5,12],"nice":false,"zero":false},"axis":{"values":[9,9.5,10,10.5,11,11.5],"format":".1f","title":"log (Mₛₜₐᵣ/M⊙)"}},"y":{"field":"v","type":"quantitative","scale":{"type":"log","domain":[0.0091,1.2],"nice":false},"axis":{"values":[0.01,0.02,0.03,0.04,0.05,0.06,0.07,0.08,0.09,0.1,0.2,0.3,0.4,0.5,0.6,0.7,0.8,0.9,1],"labelExpr":"datum.value == 1 ? '1' : datum.value == 0.1 ? '0.1' : datum.value == 0.01 ? '0.01' : ''","labelOverlap":false,"title":"Fraction"}},"color":{"field":"k","type":"nominal","scale":{"domain":["Q","ndSF","dSF","Q, z∼0.3","ndSF, z∼0.3","dSF, z∼0.3"],"range":["#ff0000","#0000ff","#ffa500","#ff0000","#0000ff","#ffa500"]},"legend":{"orient":"none","legendX":588,"legendY":203,"title":null,"symbolType":"stroke","symbolSize":121,"symbolStrokeWidth":2,"labelFontSize":9,"labelFont":"DejaVu Sans","rowPadding":0,"padding":4,"strokeColor":"#333","fillColor":"white","labelOffset":6,"encode":{"labels":{"update":{"fill":{"scale":"color","field":"value"}}}}}},"strokeDash":{"field":"k","type":"nominal","scale":{"domain":["Q","ndSF","dSF","Q, z∼0.3","ndSF, z∼0.3","dSF, z∼0.3"],"range":[[1,0],[1,0],[1,0],[5,3],[5,3],[5,3]]},"legend":{"orient":"none","legendX":588,"legendY":203,"title":null,"symbolType":"stroke","symbolSize":121,"symbolStrokeWidth":2,"labelFontSize":9,"labelFont":"DejaVu Sans","rowPadding":0,"padding":4,"strokeColor":"#333","fillColor":"white","labelOffset":6,"encode":{"labels":{"update":{"fill":{"scale":"color","field":"value"}}}}}}}},
{"data":{"name":"bins"},"transform":[{"filter":"datum.p==5"}],"mark":{"type":"line","clip":true,"strokeWidth":1.5},"encoding":{"x":{"field":"x","type":"quantitative","scale":{"domain":[8.5,12],"nice":false,"zero":false},"axis":{"values":[9,9.5,10,10.5,11,11.5],"format":".1f","title":"log (Mₛₜₐᵣ/M⊙)"}},"y":{"field":"v","type":"quantitative","scale":{"type":"log","domain":[0.0091,1.2],"nice":false},"axis":{"values":[0.01,0.02,0.03,0.04,0.05,0.06,0.07,0.08,0.09,0.1,0.2,0.3,0.4,0.5,0.6,0.7,0.8,0.9,1],"labelExpr":"datum.value == 1 ? '1' : datum.value == 0.1 ? '0.1' : datum.value == 0.01 ? '0.01' : ''","labelOverlap":false,"title":"Fraction"}},"color":{"field":"k","type":"nominal","scale":{"domain":["Q","ndSF","dSF","Q, z∼0.3","ndSF, z∼0.3","dSF, z∼0.3"],"range":["#ff0000","#0000ff","#ffa500","#ff0000","#0000ff","#ffa500"]},"legend":{"orient":"none","legendX":588,"legendY":203,"title":null,"symbolType":"stroke","symbolSize":121,"symbolStrokeWidth":2,"labelFontSize":9,"labelFont":"DejaVu Sans","rowPadding":0,"padding":4,"strokeColor":"#333","fillColor":"white","labelOffset":6,"encode":{"labels":{"update":{"fill":{"scale":"color","field":"value"}}}}}},"strokeDash":{"field":"k","type":"nominal","scale":{"domain":["Q","ndSF","dSF","Q, z∼0.3","ndSF, z∼0.3","dSF, z∼0.3"],"range":[[1,0],[1,0],[1,0],[5,3],[5,3],[5,3]]},"legend":{"orient":"none","legendX":588,"legendY":203,"title":null,"symbolType":"stroke","symbolSize":121,"symbolStrokeWidth":2,"labelFontSize":9,"labelFont":"DejaVu Sans","rowPadding":0,"padding":4,"strokeColor":"#333","fillColor":"white","labelOffset":6,"encode":{"labels":{"update":{"fill":{"scale":"color","field":"value"}}}}}}}},
{"data":{"name":"labels"},"transform":[{"filter":"datum.p==5"}],"mark":{"type":"text","align":"left","baseline":"middle","font":"Liberation Serif","fontSize":10.5},"encoding":{"x":{"datum":8.7,"type":"quantitative","scale":{"domain":[8.5,12],"nice":false,"zero":false},"axis":{"values":[9,9.5,10,10.5,11,11.5],"format":".1f","title":"log (Mₛₜₐᵣ/M⊙)"}},"y":{"datum":0.0132,"type":"quantitative","scale":{"type":"log","domain":[0.0091,1.2],"nice":false},"axis":{"values":[0.01,0.02,0.03,0.04,0.05,0.06,0.07,0.08,0.09,0.1,0.2,0.3,0.4,0.5,0.6,0.7,0.8,0.9,1],"labelExpr":"datum.value == 1 ? '1' : datum.value == 0.1 ? '0.1' : datum.value == 0.01 ? '0.01' : ''","labelOverlap":false,"title":"Fraction"}},"text":{"field":"t"}}}
]},
{"width":195,"height":161,"layer":[
{"data":{"name":"bins"},"transform":[{"filter":"datum.p==6"}],"mark":{"type":"rect","clip":true,"fillOpacity":0.5,"strokeOpacity":0.25,"strokeWidth":1.5},"encoding":{"x":{"field":"lo","type":"quantitative","scale":{"domain":[8.5,12],"nice":false,"zero":false},"axis":{"values":[9,9.5,10,10.5,11,11.5],"format":".1f","title":"log (Mₛₜₐᵣ/M⊙)"}},"x2":{"field":"hi"},"y":{"field":"l","type":"quantitative","scale":{"type":"log","domain":[0.0091,1.2],"nice":false},"axis":{"values":[0.01,0.02,0.03,0.04,0.05,0.06,0.07,0.08,0.09,0.1,0.2,0.3,0.4,0.5,0.6,0.7,0.8,0.9,1],"labels":false,"title":null}},"y2":{"field":"u"},"fill":{"field":"k","type":"nominal","scale":{"domain":["Q","ndSF","dSF"],"range":["#ff0000","#0000ff","#ffa500"]},"legend":null},"stroke":{"field":"k","type":"nominal","scale":{"domain":["Q","ndSF","dSF"],"range":["#ff0000","#0000ff","#ffa500"]},"legend":null}}},
{"data":{"name":"ref"},"mark":{"type":"line","clip":true,"strokeWidth":1.5},"encoding":{"x":{"field":"x","type":"quantitative","scale":{"domain":[8.5,12],"nice":false,"zero":false},"axis":{"values":[9,9.5,10,10.5,11,11.5],"format":".1f","title":"log (Mₛₜₐᵣ/M⊙)"}},"y":{"field":"v","type":"quantitative","scale":{"type":"log","domain":[0.0091,1.2],"nice":false},"axis":{"values":[0.01,0.02,0.03,0.04,0.05,0.06,0.07,0.08,0.09,0.1,0.2,0.3,0.4,0.5,0.6,0.7,0.8,0.9,1],"labels":false,"title":null}},"color":{"field":"k","type":"nominal","scale":{"domain":["Q","ndSF","dSF","Q, z∼0.3","ndSF, z∼0.3","dSF, z∼0.3"],"range":["#ff0000","#0000ff","#ffa500","#ff0000","#0000ff","#ffa500"]},"legend":{"orient":"none","legendX":588,"legendY":203,"title":null,"symbolType":"stroke","symbolSize":121,"symbolStrokeWidth":2,"labelFontSize":9,"labelFont":"DejaVu Sans","rowPadding":0,"padding":4,"strokeColor":"#333","fillColor":"white","labelOffset":6,"encode":{"labels":{"update":{"fill":{"scale":"color","field":"value"}}}}}},"strokeDash":{"field":"k","type":"nominal","scale":{"domain":["Q","ndSF","dSF","Q, z∼0.3","ndSF, z∼0.3","dSF, z∼0.3"],"range":[[1,0],[1,0],[1,0],[5,3],[5,3],[5,3]]},"legend":{"orient":"none","legendX":588,"legendY":203,"title":null,"symbolType":"stroke","symbolSize":121,"symbolStrokeWidth":2,"labelFontSize":9,"labelFont":"DejaVu Sans","rowPadding":0,"padding":4,"strokeColor":"#333","fillColor":"white","labelOffset":6,"encode":{"labels":{"update":{"fill":{"scale":"color","field":"value"}}}}}}}},
{"data":{"name":"bins"},"transform":[{"filter":"datum.p==6"}],"mark":{"type":"line","clip":true,"strokeWidth":1.5},"encoding":{"x":{"field":"x","type":"quantitative","scale":{"domain":[8.5,12],"nice":false,"zero":false},"axis":{"values":[9,9.5,10,10.5,11,11.5],"format":".1f","title":"log (Mₛₜₐᵣ/M⊙)"}},"y":{"field":"v","type":"quantitative","scale":{"type":"log","domain":[0.0091,1.2],"nice":false},"axis":{"values":[0.01,0.02,0.03,0.04,0.05,0.06,0.07,0.08,0.09,0.1,0.2,0.3,0.4,0.5,0.6,0.7,0.8,0.9,1],"labels":false,"title":null}},"color":{"field":"k","type":"nominal","scale":{"domain":["Q","ndSF","dSF","Q, z∼0.3","ndSF, z∼0.3","dSF, z∼0.3"],"range":["#ff0000","#0000ff","#ffa500","#ff0000","#0000ff","#ffa500"]},"legend":{"orient":"none","legendX":588,"legendY":203,"title":null,"symbolType":"stroke","symbolSize":121,"symbolStrokeWidth":2,"labelFontSize":9,"labelFont":"DejaVu Sans","rowPadding":0,"padding":4,"strokeColor":"#333","fillColor":"white","labelOffset":6,"encode":{"labels":{"update":{"fill":{"scale":"color","field":"value"}}}}}},"strokeDash":{"field":"k","type":"nominal","scale":{"domain":["Q","ndSF","dSF","Q, z∼0.3","ndSF, z∼0.3","dSF, z∼0.3"],"range":[[1,0],[1,0],[1,0],[5,3],[5,3],[5,3]]},"legend":{"orient":"none","legendX":588,"legendY":203,"title":null,"symbolType":"stroke","symbolSize":121,"symbolStrokeWidth":2,"labelFontSize":9,"labelFont":"DejaVu Sans","rowPadding":0,"padding":4,"strokeColor":"#333","fillColor":"white","labelOffset":6,"encode":{"labels":{"update":{"fill":{"scale":"color","field":"value"}}}}}}}},
{"data":{"name":"labels"},"transform":[{"filter":"datum.p==6"}],"mark":{"type":"text","align":"left","baseline":"middle","font":"Liberation Serif","fontSize":10.5},"encoding":{"x":{"datum":8.7,"type":"quantitative","scale":{"domain":[8.5,12],"nice":false,"zero":false},"axis":{"values":[9,9.5,10,10.5,11,11.5],"format":".1f","title":"log (Mₛₜₐᵣ/M⊙)"}},"y":{"datum":0.0132,"type":"quantitative","scale":{"type":"log","domain":[0.0091,1.2],"nice":false},"axis":{"values":[0.01,0.02,0.03,0.04,0.05,0.06,0.07,0.08,0.09,0.1,0.2,0.3,0.4,0.5,0.6,0.7,0.8,0.9,1],"labels":false,"title":null}},"text":{"field":"t"}}}
]},
{"width":195,"height":161,"layer":[
{"data":{"name":"bins"},"transform":[{"filter":"datum.p==7"}],"mark":{"type":"rect","clip":true,"fillOpacity":0.5,"strokeOpacity":0.25,"strokeWidth":1.5},"encoding":{"x":{"field":"lo","type":"quantitative","scale":{"domain":[8.5,12],"nice":false,"zero":false},"axis":{"values":[9,9.5,10,10.5,11,11.5],"format":".1f","title":"log (Mₛₜₐᵣ/M⊙)"}},"x2":{"field":"hi"},"y":{"field":"l","type":"quantitative","scale":{"type":"log","domain":[0.0091,1.2],"nice":false},"axis":{"values":[0.01,0.02,0.03,0.04,0.05,0.06,0.07,0.08,0.09,0.1,0.2,0.3,0.4,0.5,0.6,0.7,0.8,0.9,1],"labels":false,"title":null}},"y2":{"field":"u"},"fill":{"field":"k","type":"nominal","scale":{"domain":["Q","ndSF","dSF"],"range":["#ff0000","#0000ff","#ffa500"]},"legend":null},"stroke":{"field":"k","type":"nominal","scale":{"domain":["Q","ndSF","dSF"],"range":["#ff0000","#0000ff","#ffa500"]},"legend":null}}},
{"data":{"name":"ref"},"mark":{"type":"line","clip":true,"strokeWidth":1.5},"encoding":{"x":{"field":"x","type":"quantitative","scale":{"domain":[8.5,12],"nice":false,"zero":false},"axis":{"values":[9,9.5,10,10.5,11,11.5],"format":".1f","title":"log (Mₛₜₐᵣ/M⊙)"}},"y":{"field":"v","type":"quantitative","scale":{"type":"log","domain":[0.0091,1.2],"nice":false},"axis":{"values":[0.01,0.02,0.03,0.04,0.05,0.06,0.07,0.08,0.09,0.1,0.2,0.3,0.4,0.5,0.6,0.7,0.8,0.9,1],"labels":false,"title":null}},"color":{"field":"k","type":"nominal","scale":{"domain":["Q","ndSF","dSF","Q, z∼0.3","ndSF, z∼0.3","dSF, z∼0.3"],"range":["#ff0000","#0000ff","#ffa500","#ff0000","#0000ff","#ffa500"]},"legend":{"orient":"none","legendX":588,"legendY":203,"title":null,"symbolType":"stroke","symbolSize":121,"symbolStrokeWidth":2,"labelFontSize":9,"labelFont":"DejaVu Sans","rowPadding":0,"padding":4,"strokeColor":"#333","fillColor":"white","labelOffset":6,"encode":{"labels":{"update":{"fill":{"scale":"color","field":"value"}}}}}},"strokeDash":{"field":"k","type":"nominal","scale":{"domain":["Q","ndSF","dSF","Q, z∼0.3","ndSF, z∼0.3","dSF, z∼0.3"],"range":[[1,0],[1,0],[1,0],[5,3],[5,3],[5,3]]},"legend":{"orient":"none","legendX":588,"legendY":203,"title":null,"symbolType":"stroke","symbolSize":121,"symbolStrokeWidth":2,"labelFontSize":9,"labelFont":"DejaVu Sans","rowPadding":0,"padding":4,"strokeColor":"#333","fillColor":"white","labelOffset":6,"encode":{"labels":{"update":{"fill":{"scale":"color","field":"value"}}}}}}}},
{"data":{"name":"bins"},"transform":[{"filter":"datum.p==7"}],"mark":{"type":"line","clip":true,"strokeWidth":1.5},"encoding":{"x":{"field":"x","type":"quantitative","scale":{"domain":[8.5,12],"nice":false,"zero":false},"axis":{"values":[9,9.5,10,10.5,11,11.5],"format":".1f","title":"log (Mₛₜₐᵣ/M⊙)"}},"y":{"field":"v","type":"quantitative","scale":{"type":"log","domain":[0.0091,1.2],"nice":false},"axis":{"values":[0.01,0.02,0.03,0.04,0.05,0.06,0.07,0.08,0.09,0.1,0.2,0.3,0.4,0.5,0.6,0.7,0.8,0.9,1],"labels":false,"title":null}},"color":{"field":"k","type":"nominal","scale":{"domain":["Q","ndSF","dSF","Q, z∼0.3","ndSF, z∼0.3","dSF, z∼0.3"],"range":["#ff0000","#0000ff","#ffa500","#ff0000","#0000ff","#ffa500"]},"legend":{"orient":"none","legendX":588,"legendY":203,"title":null,"symbolType":"stroke","symbolSize":121,"symbolStrokeWidth":2,"labelFontSize":9,"labelFont":"DejaVu Sans","rowPadding":0,"padding":4,"strokeColor":"#333","fillColor":"white","labelOffset":6,"encode":{"labels":{"update":{"fill":{"scale":"color","field":"value"}}}}}},"strokeDash":{"field":"k","type":"nominal","scale":{"domain":["Q","ndSF","dSF","Q, z∼0.3","ndSF, z∼0.3","dSF, z∼0.3"],"range":[[1,0],[1,0],[1,0],[5,3],[5,3],[5,3]]},"legend":{"orient":"none","legendX":588,"legendY":203,"title":null,"symbolType":"stroke","symbolSize":121,"symbolStrokeWidth":2,"labelFontSize":9,"labelFont":"DejaVu Sans","rowPadding":0,"padding":4,"strokeColor":"#333","fillColor":"white","labelOffset":6,"encode":{"labels":{"update":{"fill":{"scale":"color","field":"value"}}}}}}}},
{"data":{"name":"labels"},"transform":[{"filter":"datum.p==7"}],"mark":{"type":"text","align":"left","baseline":"middle","font":"Liberation Serif","fontSize":10.5},"encoding":{"x":{"datum":8.7,"type":"quantitative","scale":{"domain":[8.5,12],"nice":false,"zero":false},"axis":{"values":[9,9.5,10,10.5,11,11.5],"format":".1f","title":"log (Mₛₜₐᵣ/M⊙)"}},"y":{"datum":0.0132,"type":"quantitative","scale":{"type":"log","domain":[0.0091,1.2],"nice":false},"axis":{"values":[0.01,0.02,0.03,0.04,0.05,0.06,0.07,0.08,0.09,0.1,0.2,0.3,0.4,0.5,0.6,0.7,0.8,0.9,1],"labels":false,"title":null}},"text":{"field":"t"}}}
]},
{"width":195,"height":161,"layer":[
{"data":{"name":"bins"},"transform":[{"filter":"datum.p==8"}],"mark":{"type":"rect","clip":true,"fillOpacity":0.5,"strokeOpacity":0.25,"strokeWidth":1.5},"encoding":{"x":{"field":"lo","type":"quantitative","scale":{"domain":[8.5,12],"nice":false,"zero":false},"axis":{"values":[9,9.5,10,10.5,11,11.5],"format":".1f","title":"log (Mₛₜₐᵣ/M⊙)"}},"x2":{"field":"hi"},"y":{"field":"l","type":"quantitative","scale":{"type":"log","domain":[0.0091,1.2],"nice":false},"axis":{"values":[0.01,0.02,0.03,0.04,0.05,0.06,0.07,0.08,0.09,0.1,0.2,0.3,0.4,0.5,0.6,0.7,0.8,0.9,1],"labels":false,"title":null}},"y2":{"field":"u"},"fill":{"field":"k","type":"nominal","scale":{"domain":["Q","ndSF","dSF"],"range":["#ff0000","#0000ff","#ffa500"]},"legend":null},"stroke":{"field":"k","type":"nominal","scale":{"domain":["Q","ndSF","dSF"],"range":["#ff0000","#0000ff","#ffa500"]},"legend":null}}},
{"data":{"name":"ref"},"mark":{"type":"line","clip":true,"strokeWidth":1.5},"encoding":{"x":{"field":"x","type":"quantitative","scale":{"domain":[8.5,12],"nice":false,"zero":false},"axis":{"values":[9,9.5,10,10.5,11,11.5],"format":".1f","title":"log (Mₛₜₐᵣ/M⊙)"}},"y":{"field":"v","type":"quantitative","scale":{"type":"log","domain":[0.0091,1.2],"nice":false},"axis":{"values":[0.01,0.02,0.03,0.04,0.05,0.06,0.07,0.08,0.09,0.1,0.2,0.3,0.4,0.5,0.6,0.7,0.8,0.9,1],"labels":false,"title":null}},"color":{"field":"k","type":"nominal","scale":{"domain":["Q","ndSF","dSF","Q, z∼0.3","ndSF, z∼0.3","dSF, z∼0.3"],"range":["#ff0000","#0000ff","#ffa500","#ff0000","#0000ff","#ffa500"]},"legend":{"orient":"none","legendX":588,"legendY":203,"title":null,"symbolType":"stroke","symbolSize":121,"symbolStrokeWidth":2,"labelFontSize":9,"labelFont":"DejaVu Sans","rowPadding":0,"padding":4,"strokeColor":"#333","fillColor":"white","labelOffset":6,"encode":{"labels":{"update":{"fill":{"scale":"color","field":"value"}}}}}},"strokeDash":{"field":"k","type":"nominal","scale":{"domain":["Q","ndSF","dSF","Q, z∼0.3","ndSF, z∼0.3","dSF, z∼0.3"],"range":[[1,0],[1,0],[1,0],[5,3],[5,3],[5,3]]},"legend":{"orient":"none","legendX":588,"legendY":203,"title":null,"symbolType":"stroke","symbolSize":121,"symbolStrokeWidth":2,"labelFontSize":9,"labelFont":"DejaVu Sans","rowPadding":0,"padding":4,"strokeColor":"#333","fillColor":"white","labelOffset":6,"encode":{"labels":{"update":{"fill":{"scale":"color","field":"value"}}}}}}}},
{"data":{"name":"bins"},"transform":[{"filter":"datum.p==8"}],"mark":{"type":"line","clip":true,"strokeWidth":1.5},"encoding":{"x":{"field":"x","type":"quantitative","scale":{"domain":[8.5,12],"nice":false,"zero":false},"axis":{"values":[9,9.5,10,10.5,11,11.5],"format":".1f","title":"log (Mₛₜₐᵣ/M⊙)"}},"y":{"field":"v","type":"quantitative","scale":{"type":"log","domain":[0.0091,1.2],"nice":false},"axis":{"values":[0.01,0.02,0.03,0.04,0.05,0.06,0.07,0.08,0.09,0.1,0.2,0.3,0.4,0.5,0.6,0.7,0.8,0.9,1],"labels":false,"title":null}},"color":{"field":"k","type":"nominal","scale":{"domain":["Q","ndSF","dSF","Q, z∼0.3","ndSF, z∼0.3","dSF, z∼0.3"],"range":["#ff0000","#0000ff","#ffa500","#ff0000","#0000ff","#ffa500"]},"legend":{"orient":"none","legendX":588,"legendY":203,"title":null,"symbolType":"stroke","symbolSize":121,"symbolStrokeWidth":2,"labelFontSize":9,"labelFont":"DejaVu Sans","rowPadding":0,"padding":4,"strokeColor":"#333","fillColor":"white","labelOffset":6,"encode":{"labels":{"update":{"fill":{"scale":"color","field":"value"}}}}}},"strokeDash":{"field":"k","type":"nominal","scale":{"domain":["Q","ndSF","dSF","Q, z∼0.3","ndSF, z∼0.3","dSF, z∼0.3"],"range":[[1,0],[1,0],[1,0],[5,3],[5,3],[5,3]]},"legend":{"orient":"none","legendX":588,"legendY":203,"title":null,"symbolType":"stroke","symbolSize":121,"symbolStrokeWidth":2,"labelFontSize":9,"labelFont":"DejaVu Sans","rowPadding":0,"padding":4,"strokeColor":"#333","fillColor":"white","labelOffset":6,"encode":{"labels":{"update":{"fill":{"scale":"color","field":"value"}}}}}}}},
{"data":{"name":"labels"},"transform":[{"filter":"datum.p==8"}],"mark":{"type":"text","align":"left","baseline":"middle","font":"Liberation Serif","fontSize":10.5},"encoding":{"x":{"datum":8.7,"type":"quantitative","scale":{"domain":[8.5,12],"nice":false,"zero":false},"axis":{"values":[9,9.5,10,10.5,11,11.5],"format":".1f","title":"log (Mₛₜₐᵣ/M⊙)"}},"y":{"datum":0.0132,"type":"quantitative","scale":{"type":"log","domain":[0.0091,1.2],"nice":false},"axis":{"values":[0.01,0.02,0.03,0.04,0.05,0.06,0.07,0.08,0.09,0.1,0.2,0.3,0.4,0.5,0.6,0.7,0.8,0.9,1],"labels":false,"title":null}},"text":{"field":"t"}}}
]}
],
"config": {
"font": "DejaVu Sans",
"view": {"stroke": "#222", "strokeWidth": 1},
"axis": {"domain": false, "grid": false, "tickColor": "#222", "tickSize": -4, "tickWidth": 1, "labelFont": "DejaVu Sans", "labelFontSize": 10, "labelColor": "#000", "titleFont": "DejaVu Sans", "titleFontSize": 13, "titleFontWeight": "normal", "titleColor": "#000"},
"axisX": {"labelPadding": 6, "titlePadding": 3},
"axisY": {"labelPadding": 6, "titlePadding": 6}
}
}
